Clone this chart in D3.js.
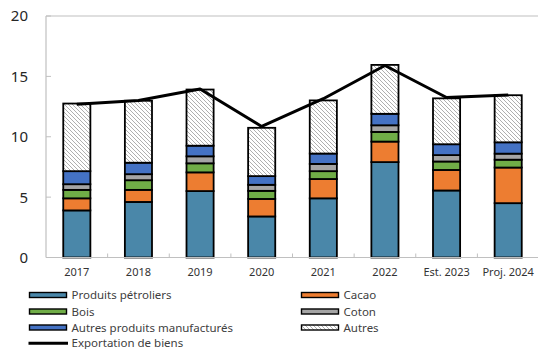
<!DOCTYPE html>
<html>
<head>
<meta charset="utf-8">
<script src="https://cdn.jsdelivr.net/npm/d3@7/dist/d3.min.js"></script>
<style>
  html, body { margin: 0; padding: 0; background: #fff; }
  svg { display: block; font-family: "Noto Sans", "Open Sans", sans-serif; }
</style>
</head>
<body>
<svg id="chart" width="538" height="349"></svg>
<script>
// Exportations de biens par produit (milliards)
const categories = ["2017", "2018", "2019", "2020", "2021", "2022", "Est. 2023", "Proj. 2024"];
const produitsPetroliers = [3.9, 4.6, 5.5, 3.4, 4.9, 7.9, 5.55, 4.5];
const cacao = [1.0, 1.0, 1.55, 1.45, 1.6, 1.7, 1.7, 2.95];
const bois = [0.7, 0.8, 0.75, 0.67, 0.65, 0.8, 0.7, 0.65];
const coton = [0.47, 0.5, 0.58, 0.5, 0.6, 0.55, 0.53, 0.5];
const autresManufactures = [1.08, 0.95, 0.88, 0.72, 0.86, 0.95, 0.9, 0.94];
const autres = [5.6, 5.13, 4.65, 4.0, 4.4, 4.05, 3.8, 3.9];
const exportationBiens = [12.7, 13.0, 13.95, 10.85, 13.15, 15.9, 13.25, 13.45];
const yTicks = [0, 5, 10, 15, 20];

const seriesDefs = [
  { key: "petrol", label: "Produits pétroliers", values: produitsPetroliers, fill: "#4a87a9" },
  { key: "cacao", label: "Cacao", values: cacao, fill: "#ed7d31" },
  { key: "bois", label: "Bois", values: bois, fill: "#70ad47" },
  { key: "coton", label: "Coton", values: coton, fill: "#a5a5a5" },
  { key: "manuf", label: "Autres produits manufacturés", values: autresManufactures, fill: "#4472c4" },
  { key: "autres", label: "Autres", values: autres, fill: "url(#hatch)" }
];

const svg = d3.select("#chart");

// diagonal hatch for "Autres"
const defs = svg.append("defs");
const pat = defs.append("pattern")
  .attr("id", "hatch")
  .attr("patternUnits", "userSpaceOnUse")
  .attr("width", 4).attr("height", 4);
pat.append("rect").attr("width", 4).attr("height", 4).attr("fill", "#fff");
pat.append("path")
  .attr("d", "M-1,-1 L5,5 M-1,3 L1,5 M3,-1 L5,1")
  .attr("stroke", "#9a9a9a").attr("stroke-width", 0.8);

const plot = { left: 46, right: 539, top: 16, bottom: 257.5 };

const x = d3.scaleBand()
  .domain(categories)
  .range([plot.left, plot.right])
  .paddingInner(0.56)
  .paddingOuter(0.28);

const y = d3.scaleLinear()
  .domain([0, 20])
  .range([plot.bottom, plot.top]);

// stacked data
const rows = categories.map((c, i) => {
  const r = { cat: c };
  seriesDefs.forEach(s => { r[s.key] = s.values[i]; });
  return r;
});
const stack = d3.stack().keys(seriesDefs.map(s => s.key));
const stacked = stack(rows);

// frame lines
svg.append("line")
  .attr("x1", plot.left).attr("x2", 538)
  .attr("y1", y(20)).attr("y2", y(20))
  .attr("stroke", "#c0c0c0").attr("stroke-width", 1.2);
svg.append("line")
  .attr("x1", plot.left).attr("x2", plot.left)
  .attr("y1", y(20)).attr("y2", y(0))
  .attr("stroke", "#c0c0c0").attr("stroke-width", 1.2);

// y ticks (inward) and labels
yTicks.forEach(t => {
  svg.append("line")
    .attr("x1", plot.left).attr("x2", plot.left + 5)
    .attr("y1", y(t)).attr("y2", y(t))
    .attr("stroke", "#c0c0c0").attr("stroke-width", 1);
  svg.append("text")
    .attr("x", 28).attr("y", y(t))
    .attr("dy", "0.36em")
    .attr("text-anchor", "end")
    .attr("font-size", 15)
    .attr("fill", "#262626")
    .text(t);
});

// bars
const groups = svg.append("g").selectAll("g")
  .data(stacked)
  .join("g")
  .attr("fill", (d, i) => seriesDefs[i].fill);

groups.selectAll("rect")
  .data(d => d)
  .join("rect")
  .attr("x", d => x(d.data.cat))
  .attr("width", x.bandwidth())
  .attr("y", d => y(d[1]))
  .attr("height", d => y(d[0]) - y(d[1]))
  .attr("stroke", "#000")
  .attr("stroke-width", 1.8);

// x axis line, boundary ticks and labels
svg.append("line")
  .attr("x1", plot.left).attr("x2", 538)
  .attr("y1", y(0)).attr("y2", y(0))
  .attr("stroke", "#c0c0c0").attr("stroke-width", 1.2);
const step = x.step();
categories.forEach((c, i) => {
  if (i > 0) {
    const bx = x(c) - step * x.paddingInner() / 2;
    svg.append("line")
      .attr("x1", bx).attr("x2", bx)
      .attr("y1", y(0)).attr("y2", y(0) - 4)
      .attr("stroke", "#c0c0c0").attr("stroke-width", 1);
  }
  svg.append("text")
    .attr("x", x(c) + x.bandwidth() / 2)
    .attr("y", 276)
    .attr("text-anchor", "middle")
    .attr("font-size", 11)
    .attr("fill", "#333")
    .text(c);
});

// total exports line
const line = d3.line()
  .x((d, i) => x(categories[i]) + x.bandwidth() / 2)
  .y(d => y(d));
svg.append("path")
  .datum(exportationBiens)
  .attr("d", line)
  .attr("fill", "none")
  .attr("stroke", "#000")
  .attr("stroke-width", 3)
  .attr("stroke-linejoin", "round");

// legend
const legendItems = [
  { s: seriesDefs[0], col: 0, row: 0 },
  { s: seriesDefs[1], col: 1, row: 0 },
  { s: seriesDefs[2], col: 0, row: 1 },
  { s: seriesDefs[3], col: 1, row: 1 },
  { s: seriesDefs[4], col: 0, row: 2 },
  { s: seriesDefs[5], col: 1, row: 2 }
];
const colX = [29.5, 301.5];
const rowY = [295, 311.5, 327.5, 343.3];
const legend = svg.append("g");
legendItems.forEach(it => {
  const lx = colX[it.col], ly = rowY[it.row];
  legend.append("rect")
    .attr("x", lx).attr("y", ly - 2.5)
    .attr("width", 37).attr("height", 5)
    .attr("fill", it.s.fill)
    .attr("stroke", "#000").attr("stroke-width", 1.4);
  legend.append("text")
    .attr("x", lx + 42).attr("y", ly)
    .attr("dy", "0.35em")
    .attr("font-size", 11.5)
    .attr("fill", "#404040")
    .text(it.s.label);
});
legend.append("line")
  .attr("x1", 28.5).attr("x2", 68)
  .attr("y1", rowY[3]).attr("y2", rowY[3])
  .attr("stroke", "#000").attr("stroke-width", 3);
legend.append("text")
  .attr("x", 71.5).attr("y", rowY[3])
  .attr("dy", "0.35em")
  .attr("font-size", 11.5)
  .attr("fill", "#404040")
  .text("Exportation de biens");
</script>
</body>
</html>
